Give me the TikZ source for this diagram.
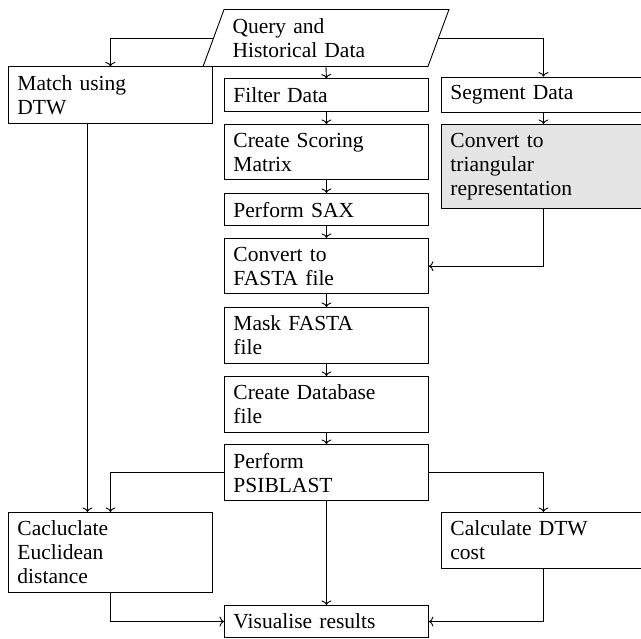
\documentclass[tikz,border=0pt]{standalone}
\usepackage{fontspec}
\setmainfont{Liberation Serif}
\usetikzlibrary{arrows.meta}
\begin{document}
\begin{tikzpicture}[x=1pt,y=-1pt,
  every path/.style={line width=0.9pt},
  conn/.style={draw, -{To[length=4.5pt,width=10pt]}},
  stepbox/.style={draw, rectangle, align=left, text width=186pt,
    inner xsep=9pt, inner ysep=8.5pt, anchor=north west,
    font=\fontsize{21.5}{24}\selectfont},
  rowbox/.style={stepbox, anchor=west},
  graybox/.style={stepbox, fill=black!10}]
\useasboundingbox (0,0) rectangle (641,639);

% input parallelogram
\node[rectangle, align=left, text width=187pt, inner xsep=18.5pt, inner ysep=8.5pt,
  font=\fontsize{21.5}{24}\selectfont] (q) at (326,38) {Query and\\Historical Data};
\draw ([xshift=-10.5pt]q.south west) -- ([xshift=-10.5pt]q.south east)
  -- ([xshift=10.5pt]q.north east) -- ([xshift=10.5pt]q.north west) -- cycle;

% first row
\node[rowbox] (match) at (8,95) {Match using\\DTW};
\node[rowbox] (filter) at (224,95) {Filter Data};
\node[rowbox] (segment) at (441,95) {Segment Data};

% middle column
\node[stepbox] (scoring) at (224,124) {Create Scoring\\Matrix};
\node[graybox] (tri) at (441,124) {Convert to\\triangular\\representation};
\node[stepbox] (sax) at (224,193) {Perform SAX};
\node[stepbox] (fasta) at (224,238) {Convert to\\FASTA file};
\node[stepbox] (mask) at (224,307) {Mask FASTA\\file};
\node[stepbox] (db) at (224,376) {Create Database\\file};
\node[stepbox] (psi) at (224,444) {Perform\\PSIBLAST};

% bottom
\node[stepbox] (euclid) at (8,512) {Cacluclate\\Euclidean\\distance};
\node[stepbox] (dtwcost) at (441,512) {Calculate DTW\\cost};
\node[stepbox] (vis) at (224,605) {Visualise results};

% connectors
\path[conn] (q.west) -| (match.north);
\path[conn] (q.south) -- (filter.north);
\path[conn] (q.east) -| (segment.north);
\path[conn] (filter) -- (scoring);
\path[conn] (segment) -- (tri);
\path[conn] (scoring) -- (sax);
\path[conn] (sax) -- (fasta);
\path[conn] (tri.south) |- (fasta.east);
\path[conn] (fasta) -- (mask);
\path[conn] (mask) -- (db);
\path[conn] (db) -- (psi);
\path[conn] ([xshift=-23pt]match.south) -- ([xshift=-23pt]euclid.north);
\path[conn] (psi.west) -| (euclid.north);
\path[conn] (psi.east) -| (dtwcost.north);
\path[conn] (psi) -- (vis);
\path[conn] (euclid.south) |- (vis.west);
\path[conn] (dtwcost.south) |- (vis.east);
\end{tikzpicture}
\end{document}
